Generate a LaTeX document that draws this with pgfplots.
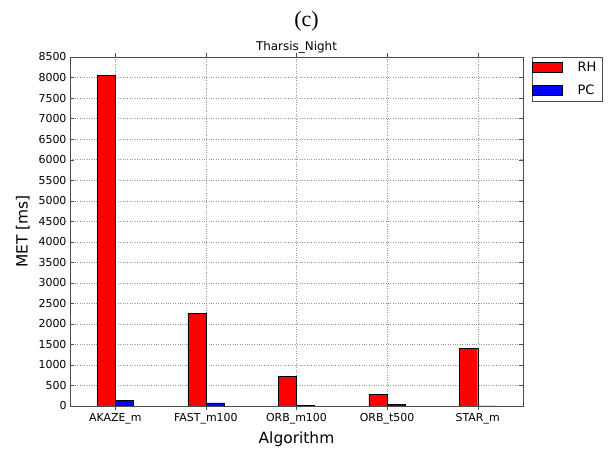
\documentclass[border=0pt]{standalone}
\usepackage{fontspec}
\setmainfont{DejaVu Sans}
\newfontfamily\timesf{Liberation Serif}
\usepackage{pgfplots}
\pgfplotsset{compat=1.18}
\begin{document}
\begin{tikzpicture}
\begin{axis}[
 scale only axis, width=453bp, height=349bp,
 xmin=-0.5, xmax=4.5, ymin=0, ymax=8500,
 xtick={0,...,4}, xticklabels={AKAZE\_m,FAST\_m100,ORB\_m100,ORB\_t500,STAR\_m},
 ytick={0,500,...,8500},
 grid=major, grid style={dotted, gray!80},
 axis line style={black!70},
 tick style={black!70},
 tick align=inside,
 ticklabel style={font=\fontsize{11}{12}\selectfont},
 /pgf/number format/assume math mode=true,
 /pgf/number format/set thousands separator={},
 ylabel={MET [ms]}, xlabel={Algorithm},
 label style={font=\fontsize{15.5}{17}\selectfont},
 ylabel style={yshift=2bp},
 title={Tharsis\_Night}, title style={font=\fontsize{12}{13}\selectfont, yshift=-6bp},
 ybar, bar width=0.2,
 legend style={at={(1.02,1)}, anchor=north west, font=\fontsize{13}{14}\selectfont, draw=black!70,
   inner xsep=0bp, inner ysep=3bp, row sep=8bp,
   cells={anchor=west}, nodes={inner xsep=6bp},
   /tikz/every odd column/.append style={column sep=9bp}},
 legend image code/.code={\draw[#1] (0bp,-5bp) rectangle (30bp,5bp);},
]
\addplot[fill=red, draw=black, bar shift=-0.1] coordinates {(0,8050) (1,2250) (2,730) (3,287) (4,1405)};
\addplot[fill=blue, draw=black, bar shift=0.1] coordinates {(0,140) (1,74) (2,15) (3,33) (4,5)};
\legend{RH,PC}
\end{axis}
\node[font=\timesf\fontsize{22}{24}\selectfont] at ([xshift=10bp, yshift=36bp]current axis.north) {(c)};
\path ([xshift=-70bp,yshift=-41bp]current axis.south west) ([xshift=85bp,yshift=57bp]current axis.north east);
\end{tikzpicture}
\end{document}
